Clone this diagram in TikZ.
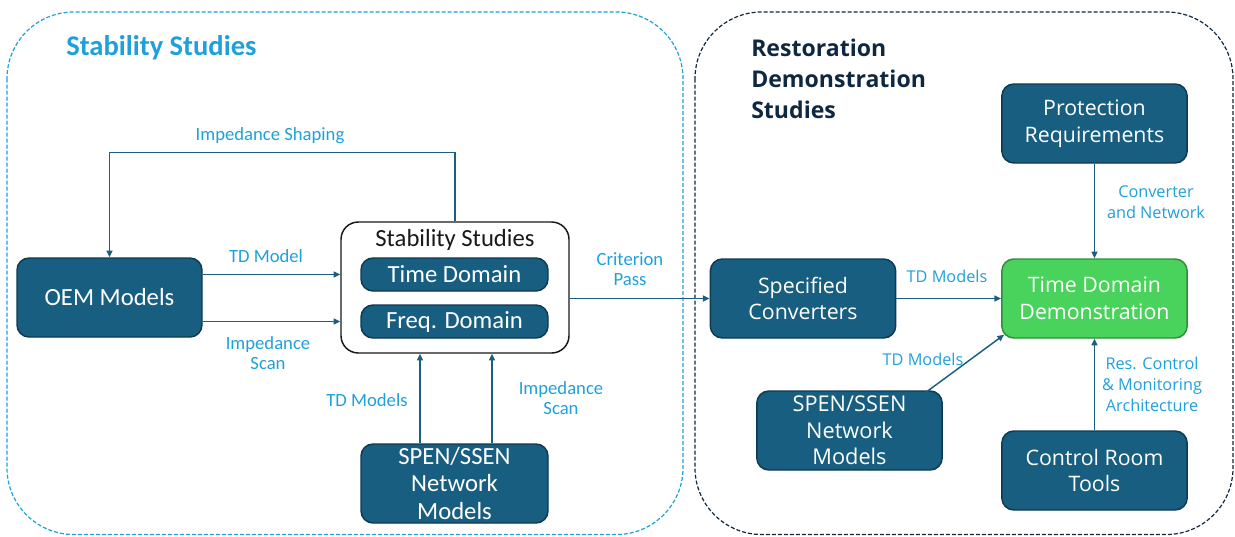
\documentclass[tikz,border=0pt]{standalone}
\usepackage{fontspec}
\setmainfont{Open Sans}
\newfontfamily\narrowfont{Carlito}
\usetikzlibrary{arrows.meta,calc}
\definecolor{boxfill}{RGB}{24,94,128}
\definecolor{boxline}{RGB}{14,58,82}
\definecolor{greenfill}{RGB}{74,211,92}
\definecolor{greenline}{RGB}{46,140,58}
\definecolor{lblue}{RGB}{31,160,218}
\definecolor{arrcol}{RGB}{27,94,128}
\definecolor{navy}{RGB}{14,40,65}
\begin{document}
\begin{tikzpicture}[x=0.75pt,y=-0.75pt,
  dboxL/.style={draw=boxline,fill=boxfill,line width=1.1pt,rounded corners=9pt,text=white,
    font=\narrowfont\fontsize{18.5}{20.5}\selectfont,align=center,inner sep=0pt},
  dboxR/.style={draw=boxline,fill=boxfill,line width=1.1pt,rounded corners=9pt,text=white,
    font=\fontsize{16}{20}\selectfont,align=center,inner sep=0pt,
    minimum width=139pt,minimum height=59.25pt},
  gbox/.style={dboxR,draw=greenline,fill=greenfill},
  lblL/.style={text=lblue,font=\narrowfont\fontsize{14}{15.5}\selectfont,align=center,inner sep=0pt},
  lblR/.style={text=lblue,font=\fontsize{12.2}{16}\selectfont,align=center,inner sep=0pt},
  arr/.style={draw=arrcol,line width=1.1pt,-{Triangle[length=5pt,width=4.5pt]}},
  contL/.style={draw=lblue,line width=0.9pt,dash pattern=on 3pt off 1.5pt,rounded corners=50pt},
  contR/.style={draw=navy,line width=0.9pt,dash pattern=on 3pt off 1.5pt,rounded corners=50pt}]
\useasboundingbox (0,0) rectangle (1235,536);
% containers
\draw[contL] (7,12) rectangle (683,534.5);
\draw[contR] (695,12) rectangle (1233,534.5);
\node[anchor=west,text=lblue,font=\narrowfont\bfseries\fontsize{21.4}{24}\selectfont,inner sep=0pt] (t1) at (66,48) {Stability Studies};
\node[anchor=west,text=navy,font=\bfseries\fontsize{17.3}{23.2}\selectfont,align=left,inner sep=0pt] (t2) at (751,79) {Restoration\\Demonstration\\Studies};
% left nodes
\node[dboxL,minimum width=138.75pt,minimum height=59.25pt] (oem) at (109.5,297.5) {OEM Models};
\node[draw=black!90,fill=white,line width=1.1pt,rounded corners=13pt,minimum width=171pt,minimum height=98.25pt] (ss) at (455,287.5) {};
\node[font=\narrowfont\fontsize{18.5}{20.5}\selectfont,text=black!90,inner sep=0pt] (sst) at (455,240) {Stability Studies};
\node[dboxL,minimum width=140.25pt,minimum height=24.75pt] (tdom) at (454.5,274.5) {Time Domain};
\node[dboxL,minimum width=140.25pt,minimum height=24.75pt] (fdom) at (454.5,321.5) {Freq. Domain};
\node[dboxL,minimum width=140.25pt,minimum height=59.25pt] (spenL) at (454.5,483.5) {SPEN/SSEN\\Network\\Models};
% right nodes
\node[dboxR] (spec) at (803,298.5) {Specified\\Converters};
\node[gbox] (tdd) at (1094.5,298.5) {Time Domain\\Demonstration};
\node[dboxR] (prot) at (1094.5,123.5) {Protection\\Requirements};
\node[dboxR] (ctrl) at (1094.5,470.5) {Control Room\\Tools};
\node[dboxR,font=\fontsize{16.3}{20}\selectfont] (spenR) at (849.5,430.5) {SPEN/SSEN\\Network\\Models};
% connectors left
\draw[arr] (oem.east |- tdom) -- (ss.west |- tdom);
\draw[arr] (oem.east |- fdom) -- (ss.west |- fdom);
\draw[arr] (ss.north) -- ++(0,-69) -| (oem.north);
\draw[arr] ([xshift=-25.9pt]spenL.north) -- ([xshift=-25.9pt]spenL.north |- ss.south);
\draw[arr] ([xshift=28.1pt]spenL.north) -- ([xshift=28.1pt]spenL.north |- ss.south);
\draw[arr] (ss.east |- spec.west) -- (spec.west);
% connectors right
\draw[arr] (spec) -- (tdd);
\draw[arr] (prot) -- (tdd);
\draw[arr] (ctrl) -- (tdd);
\draw[arr] ([xshift=-12.75pt,yshift=-1.5pt]spenR.north east) -- ([xshift=2.25pt,yshift=3pt]tdd.south west);
% labels
\node[lblL] (l1) at (270,136) {Impedance Shaping};
\node[lblL] (l2) at (266,256) {TD Model};
\node[lblL] (l3) at (268,353) {Impedance\\Scan};
\node[lblL] (l4) at (367,400) {TD Models};
\node[lblL] (l5) at (561,398) {Impedance\\Scan};
\node[lblL] (l6) at (630,269) {Criterion\\Pass};
\node[lblR] (l7) at (947,276) {TD Models};
\node[lblR] (l8) at (1156,202.5) {Converter\\and Network};
\node[lblR] (l9) at (923,359) {TD Models};
\node[lblR] (l10) at (1152,384.5) {Res. Control\\\& Monitoring\\Architecture};
\end{tikzpicture}
\end{document}
